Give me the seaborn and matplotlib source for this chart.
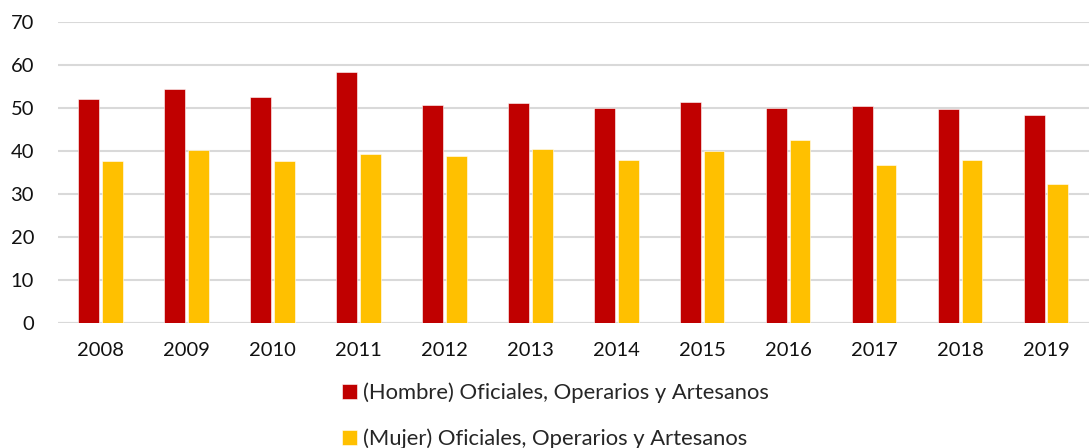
import matplotlib.pyplot as plt
import pandas as pd
import seaborn as sns

# Values
years = ["2008", "2009", "2010", "2011", "2012", "2013",
         "2014", "2015", "2016", "2017", "2018", "2019"]
hombre = [52.0, 54.4, 52.5, 58.4, 50.6, 51.1, 49.9, 51.5, 50.1, 50.5, 49.8, 48.4]
mujer = [37.6, 40.3, 37.6, 39.2, 38.9, 40.4, 37.9, 40.0, 42.5, 36.8, 37.8, 32.4]
series = ["(Hombre) Oficiales, Operarios y Artesanos",
          "(Mujer) Oficiales, Operarios y Artesanos"]
colors = ["#C00000", "#FFC000"]

df = pd.DataFrame({
    "year": years * 2,
    "value": hombre + mujer,
    "serie": [series[0]] * len(years) + [series[1]] * len(years),
})

sns.set_style("white")
plt.rcParams["font.family"] = ["Lato", "DejaVu Sans"]

fig = plt.figure(figsize=(10.89, 4.48), dpi=100)
ax = fig.add_axes([0.053, 0.279, 0.947, 0.672])

sns.barplot(
    data=df, x="year", y="value", hue="serie", palette=colors,
    saturation=1, width=0.55, gap=0.12, edgecolor="white", linewidth=0.4,
    legend=True, ax=ax,
)

ax.set_ylim(0, 70)
ax.set_yticks(range(0, 71, 10))
ax.set_xlim(-0.5, len(years) - 0.5)
ax.yaxis.grid(True, color="#D9D9D9", linewidth=1.5)
ax.set_axisbelow(True)
sns.despine(ax=ax, left=True, bottom=True, top=True, right=True)
ax.axhline(0, color="#D9D9D9", linewidth=1.5, zorder=0)
ax.set_xlabel("")
ax.set_ylabel("")
ax.tick_params(axis="both", length=0, labelsize=14.5, colors="#111111")
ax.tick_params(axis="x", pad=14)
ax.tick_params(axis="y", pad=17)

handles, labels = ax.get_legend_handles_labels()
ax.get_legend().remove()
fig.legend(
    handles, labels, loc="upper center", bbox_to_anchor=(0.51, 0.18),
    ncol=1, frameon=False, fontsize=15.8, handlelength=0.7,
    handleheight=0.7, handletextpad=0.25, labelspacing=1.15,
    borderpad=0.2,
)

fig.savefig("out.png", dpi=100)
